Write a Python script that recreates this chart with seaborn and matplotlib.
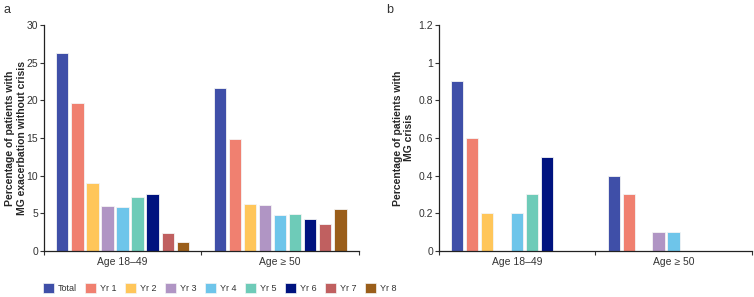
import pandas as pd
import matplotlib
matplotlib.use("Agg")
import matplotlib.pyplot as plt
import seaborn as sns

# Données
groups = ["Age 18\u201349", "Age \u2265 50"]
series = ["Total", "Yr 1", "Yr 2", "Yr 3", "Yr 4", "Yr 5", "Yr 6", "Yr 7", "Yr 8"]
exac_1849 = [26.3, 19.6, 9.0, 6.0, 5.8, 7.2, 7.5, 2.4, 1.2]
exac_50 = [21.6, 14.9, 6.2, 6.1, 4.8, 4.9, 4.3, 3.6, 5.6]
crisis_1849 = [0.9, 0.6, 0.2, 0.0, 0.2, 0.3, 0.5, 0.0, 0.0]
crisis_50 = [0.4, 0.3, 0.0, 0.1, 0.1, 0.0, 0.0, 0.0, 0.0]

colors = ["#3f4fa8", "#f08070", "#ffc65a", "#b095c4", "#6ec5ea",
          "#6ecbb8", "#00137f", "#c06060", "#9a5e1a"]


def make_df(v1, v2):
    rows = []
    for g, vals in zip(groups, [v1, v2]):
        for s, v in zip(series, vals):
            rows.append({"group": g, "series": s, "value": v})
    return pd.DataFrame(rows)


df_a = make_df(exac_1849, exac_50)
df_b = make_df(crisis_1849, crisis_50)

sns.set_style("white")
plt.rcParams['font.family'] = ['Liberation Sans', 'DejaVu Sans']

fig = plt.figure(figsize=(7.54, 2.97), dpi=100)
ax_a = fig.add_axes([0.058, 0.155, 0.418, 0.761])
ax_b = fig.add_axes([0.582, 0.155, 0.415, 0.761])

for ax, df, ymax, step, ylab, lp in [
    (ax_a, df_a, 30, 5, "Percentage of patients with\nMG exacerbation without crisis", 0),
    (ax_b, df_b, 1.2, 0.2, "Percentage of patients with\nMG crisis", 3),
]:
    sns.barplot(data=df, x="group", y="value", hue="series", palette=colors,
                hue_order=series, order=groups, width=0.86, gap=0.18,
                saturation=1, edgecolor="#f4f4f4", linewidth=0.6, ax=ax,
                legend=False)
    ax.set_xlim(-0.5, 1.5)
    ax.set_ylim(0, ymax)
    ticks = [round(i * step, 1) for i in range(int(round(ymax / step)) + 1)]
    ax.set_yticks(ticks)
    ax.set_yticklabels([f"{t:g}" for t in ticks])
    ax.set_xticks([-0.5, 0.5, 1.5], minor=True)
    ax.tick_params(axis="x", which="major", length=0, labelsize=7.5,
                   colors="#333333", pad=4)
    ax.tick_params(axis="x", which="minor", length=3, width=0.8,
                   direction="out", bottom=True, color="#333333")
    ax.tick_params(axis="y", length=3, width=0.8, direction="out", left=True,
                   labelsize=7.5, colors="#333333", pad=1)
    ax.set_xlabel("")
    ax.set_ylabel(ylab, fontsize=7.5, fontweight="bold", labelpad=lp)
    for side in ["top", "right"]:
        ax.spines[side].set_visible(False)
    for side in ["left", "bottom"]:
        ax.spines[side].set_color("#222222")
        ax.spines[side].set_linewidth(0.9)

fig.text(0.005, 0.965, "a", fontsize=9, color="#333333", va="center")
fig.text(0.512, 0.965, "b", fontsize=9, color="#333333", va="center")

handles = [plt.Rectangle((0, 0), 1, 1, facecolor=c, edgecolor="#f4f4f4",
                         linewidth=0.5) for c in colors]
fig.legend(handles, series, loc="center left", bbox_to_anchor=(0.052, 0.03),
           ncol=9, frameon=False, fontsize=6.5, handlelength=1.2,
           handleheight=1.2, handletextpad=0.45, columnspacing=0.95,
           labelcolor="#333333", borderaxespad=0)

fig.savefig("out.png", dpi=100)
